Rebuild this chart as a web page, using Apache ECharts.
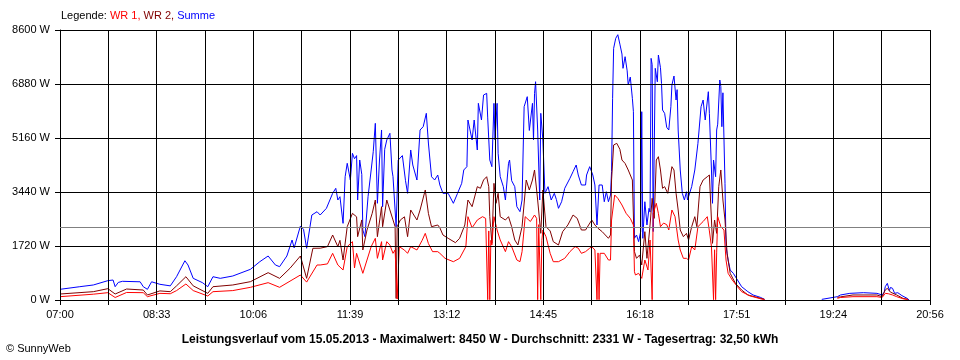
<!DOCTYPE html>
<html><head><meta charset="utf-8">
<script src="https://cdn.jsdelivr.net/npm/echarts@6/dist/echarts.min.js"></script>
<style>html,body{margin:0;padding:0;background:#fff}#c{width:960px;height:360px}</style>
</head><body><div id="c"></div>
<script>
// time axis: minutes after 07:00, 07:00 .. 20:56
const spanMinutes = 836;
const gridSteps = 18;
const tickLabels = ['07:00','08:33','10:06','11:39','13:12','14:45','16:18','17:51','19:24','20:56'];
const yMax = 8600;
const yStep = 1720;
const avgW = 2331;
const seriesNames = ['WR 1', 'WR 2', 'Summe'];
const titleText = 'Leistungsverlauf vom 15.05.2013 - Maximalwert: 8450 W - Durchschnitt: 2331 W - Tagesertrag: 32,50 kWh';
const footerText = '\u00A9 SunnyWeb';

// [minute after 07:00, W]
const summe = [[0,340],[19,424],[32,478],[46,616],[51,637],[53,424],[56,560],[60,595],[77,580],[80,424],[84,340],[88,580],[96,500],[106,450],[112,742],[120,1250],[123,1115],[128,690],[137,550],[142,424],[147,742],[154,690],[166,764],[183,977],[192,1220],[200,1401],[207,1115],[211,1062],[218,1401],[223,1911],[225,1660],[231,2357],[234,2251],[237,1647],[242,2707],[247,2812],[250,2707],[256,2920],[262,3398],[265,3557],[267,3185],[269,3290],[272,2442],[274,3927],[276,4354],[279,3822],[281,4672],[283,4500],[285,4600],[286,3185],[288,4459],[290,4000],[291,2230],[293,2017],[296,3290],[299,4141],[301,4724],[303,5627],[305,3080],[307,4459],[309,5415],[310,2970],[312,4800],[314,5096],[317,5309],[319,4141],[320,3927],[323,2335],[325,4459],[329,4600],[332,3800],[334,3398],[337,4778],[339,4300],[343,3822],[346,5415],[349,5520],[352,5946],[354,5000],[357,3927],[360,3822],[363,3981],[365,3663],[368,3398],[373,3398],[378,3080],[382,3398],[386,3716],[388,4141],[391,4247],[392,5733],[396,5096],[398,5733],[401,4778],[402,6264],[405,5733],[407,6529],[410,6582],[411,5800],[413,4459],[415,4247],[417,6264],[418,5096],[420,6264],[421,4672],[423,3927],[426,3610],[428,3185],[431,4354],[432,4459],[434,3800],[437,3610],[439,2973],[442,2814],[444,3185],[446,6157],[449,6476],[451,5400],[454,6264],[455,5096],[456,6582],[457,6953],[459,5415],[461,3185],[462,5946],[464,5096],[466,3398],[469,3610],[472,3185],[475,3398],[477,3200],[479,2920],[482,3130],[485,3557],[490,3876],[493,4088],[496,4300],[498,3981],[501,3663],[505,3663],[506,3981],[509,4247],[512,3981],[514,3663],[516,2389],[517,2389],[518,3663],[521,3663],[523,3130],[525,3450],[527,3130],[529,3344],[530,4088],[531,6423],[532,8016],[534,8334],[536,8450],[538,8150],[540,7835],[541,7379],[543,7750],[545,7300],[546,6848],[548,7100],[550,6423],[551,5998],[552,1965],[554,2070],[556,1858],[558,2180],[559,5998],[560,1965],[562,3130],[564,2389],[566,2920],[567,2800],[568,7697],[569,7500],[570,2180],[572,7379],[574,6950],[575,7803],[577,7400],[578,6900],[579,6052],[581,5946],[583,5500],[585,5415],[587,6157],[588,6848],[590,7134],[592,6370],[593,6700],[594,5415],[596,4141],[598,3398],[600,3185],[602,3450],[603,3185],[604,3290],[607,3610],[610,4141],[613,4990],[616,6157],[618,6370],[620,5733],[623,6635],[624,5946],[626,4141],[627,3080],[628,4459],[630,3927],[631,5415],[632,5600],[634,7007],[635,6800],[636,5520],[637,6600],[639,3716],[640,1720],[642,1274],[644,956],[647,850],[651,637],[655,424],[661,265],[666,160],[673,85],[677,20],[700,null],[732,20],[747,106],[750,160],[759,212],[772,233],[785,212],[790,160],[792,250],[793,424],[795,530],[797,300],[798,400],[800,372],[802,212],[805,233],[809,140],[814,53],[816,0]];

const wr2 = [[0,191],[32,265],[46,361],[53,191],[64,350],[80,318],[84,160],[96,290],[106,265],[112,450],[121,742],[128,450],[142,212],[147,424],[166,478],[183,584],[200,870],[211,690],[221,1010],[231,1401],[237,690],[243,1647],[250,1650],[257,1700],[262,2070],[267,1700],[269,1900],[272,1274],[276,2335],[281,2760],[285,2650],[286,2017],[290,2550],[291,1593],[295,2230],[300,2760],[303,3185],[305,2017],[309,2973],[310,2335],[314,3185],[317,2867],[320,2550],[322,2335],[323,50],[324,2335],[327,2548],[331,2650],[334,2017],[337,2867],[343,2548],[346,2867],[351,3504],[354,2760],[357,2335],[363,2389],[365,2300],[368,2070],[373,1965],[380,1826],[384,1965],[389,2389],[392,3185],[396,2973],[401,3610],[404,3557],[407,3822],[410,3927],[412,3610],[413,2654],[415,1805],[417,3716],[419,3080],[421,3398],[423,2654],[428,2548],[431,2654],[434,2335],[437,1911],[440,1752],[444,2335],[448,3822],[451,3504],[454,3822],[456,4141],[459,3185],[462,2123],[464,3504],[467,2335],[471,2200],[474,1858],[479,1752],[483,2176],[488,2389],[493,2707],[497,2600],[501,2230],[505,2230],[508,2389],[511,2548],[514,2389],[517,2283],[521,2176],[524,2070],[527,1965],[529,2070],[530,3822],[532,4937],[535,4990],[538,4800],[540,4459],[543,4350],[546,4141],[550,3822],[552,1540],[554,1327],[557,1434],[559,1115],[562,2176],[564,1327],[567,2389],[569,3239],[571,2600],[573,4459],[575,4565],[577,4141],[579,3557],[581,3610],[584,3398],[588,4247],[590,4141],[592,3398],[594,2867],[596,2230],[599,2017],[602,2123],[604,1911],[607,2335],[610,2654],[612,2335],[615,3610],[618,3822],[622,3927],[624,3981],[626,2548],[627,1805],[629,2548],[631,2123],[633,3610],[635,4141],[637,3185],[639,2548],[641,1487],[644,850],[649,530],[655,319],[661,160],[668,100],[677,20],[700,null],[747,85],[750,100],[762,160],[785,160],[790,106],[793,319],[795,372],[798,250],[804,160],[810,53],[815,20]];

const wr1 = [[0,106],[32,185],[46,233],[53,80],[64,240],[80,233],[84,106],[96,212],[106,200],[112,300],[121,510],[128,300],[142,127],[147,265],[166,300],[183,404],[200,552],[211,404],[221,600],[231,796],[237,570],[247,1115],[250,1115],[257,1150],[262,1487],[267,1115],[272,956],[276,1700],[281,1858],[283,1020],[285,1487],[291,850],[295,1274],[299,1700],[303,1965],[305,1327],[309,1858],[310,1274],[314,1858],[317,1750],[320,1487],[322,1593],[324,30],[326,1700],[331,1590],[334,1487],[337,1700],[343,1593],[348,1900],[351,2123],[354,1800],[358,1540],[363,1540],[365,1487],[370,1327],[378,1220],[384,1327],[390,1700],[392,2654],[396,2300],[401,2548],[406,2654],[409,2600],[411,10],[412,2200],[413,10],[414,1900],[415,1752],[417,2654],[420,2230],[423,1911],[428,1540],[431,1858],[434,1700],[439,1275],[442,1220],[444,1540],[447,2654],[452,2500],[456,2707],[458,2600],[459,10],[460,2400],[462,10],[463,1900],[464,2230],[467,2017],[471,1487],[474,1220],[479,1220],[485,1327],[490,1540],[495,1700],[498,1650],[501,1487],[505,1540],[509,1650],[511,1700],[514,1593],[516,10],[517,1500],[518,10],[519,1487],[523,1487],[527,1274],[529,1274],[530,2548],[533,3344],[536,3239],[540,3026],[544,2760],[548,2600],[551,2389],[552,900],[553,796],[556,850],[559,690],[562,1274],[565,956],[567,1911],[569,10],[570,2760],[573,3080],[575,2760],[577,2335],[580,2450],[583,2400],[585,2230],[588,2867],[591,2654],[594,1911],[596,1593],[599,1327],[602,1327],[604,1274],[607,1700],[610,1593],[613,2335],[618,2500],[622,2654],[624,2200],[626,1700],[628,10],[629,1600],[630,10],[631,1500],[632,2654],[635,2335],[638,2230],[640,1274],[642,850],[646,637],[651,424],[655,265],[663,130],[673,40],[677,10],[700,null],[747,53],[750,80],[762,106],[785,106],[790,80],[793,212],[796,200],[800,160],[804,106],[810,40],[815,10]];

const colors = ['#ff0000', '#800000', '#0000ff'];
const FONT = '"Liberation Sans", Arial, sans-serif';
const step = spanMinutes / gridSteps;

const chart = echarts.init(document.getElementById('c'), null, {renderer: 'canvas'});
const mkSeries = (name, data, color, z) => ({
  name, type: 'line', data, symbol: 'none', showSymbol: false, connectNulls: false,
  lineStyle: {color, width: 1}, itemStyle: {color}, z, animation: false, silent: true
});
chart.setOption({
  animation: false,
  backgroundColor: '#fff',
  textStyle: {fontFamily: FONT},
  title: {
    text: titleText, left: 'center', top: 329,
    textStyle: {fontSize: 12, fontWeight: 'bold', color: '#000', fontFamily: FONT}
  },
  graphic: [
    {type: 'text', left: 61, top: 10, style: {
      rich: {
        k: {fill: '#000', font: '11px ' + FONT},
        a: {fill: colors[0], font: '11px ' + FONT},
        b: {fill: colors[1], font: '11px ' + FONT},
        c: {fill: colors[2], font: '11px ' + FONT}
      },
      text: '{k|Legende: }{a|' + seriesNames[0] + ', }{b|' + seriesNames[1] + ', }{c|' + seriesNames[2] + '}'
    }},
    {type: 'text', left: 6, top: 343, style: {text: footerText, fill: '#000', font: '11px ' + FONT}}
  ],
  grid: {left: 60, right: 30, top: 30, bottom: 60, containLabel: false},
  xAxis: {
    type: 'value', min: 0, max: spanMinutes, interval: step, z: 3,
    axisLine: {show: true, lineStyle: {color: '#000', width: 1}},
    axisTick: {show: true, length: 5, lineStyle: {color: '#000'}},
    splitLine: {show: true, lineStyle: {color: '#000', width: 1}},
    axisLabel: {
      color: '#000', fontSize: 11, margin: 9, fontFamily: FONT,
      formatter: v => { const i = Math.round(v / step); return i % 2 === 0 ? tickLabels[i / 2] : ''; }
    }
  },
  yAxis: {
    type: 'value', min: 0, max: yMax, interval: yStep, z: 3,
    axisLine: {show: true, lineStyle: {color: '#000', width: 1}},
    axisTick: {show: true, length: 5, lineStyle: {color: '#000'}},
    splitLine: {show: true, lineStyle: {color: '#000', width: 1}},
    axisLabel: {color: '#000', fontSize: 11, margin: 10, fontFamily: FONT, formatter: v => v + ' W'}
  },
  series: [
    mkSeries(seriesNames[2], summe, colors[2], 2),
    mkSeries(seriesNames[1], wr2, colors[1], 2),
    mkSeries(seriesNames[0], wr1, colors[0], 2),
    {
      type: 'line', data: [], z: 4, silent: true,
      markLine: {silent: true, symbol: 'none', label: {show: false},
        lineStyle: {color: '#808080', width: 1, type: 'solid'},
        data: [{yAxis: avgW}], animation: false}
    }
  ]
});
</script></body></html>
